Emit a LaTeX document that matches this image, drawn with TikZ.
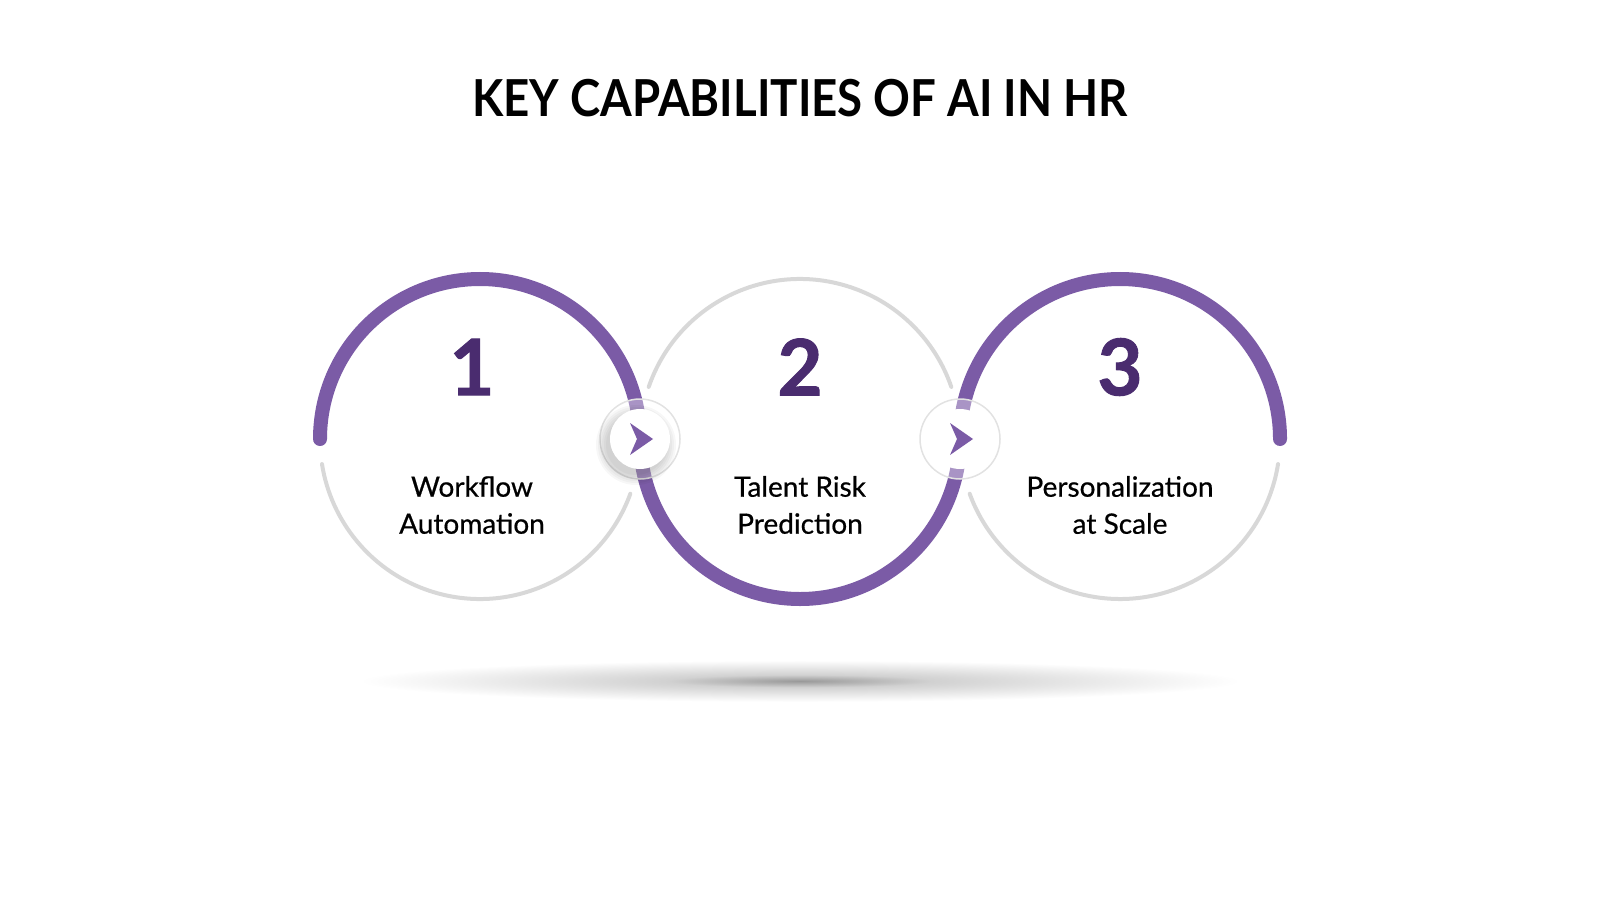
\documentclass[tikz,border=0pt]{standalone}
\usepackage{fontspec}
\setmainfont{Lato}
\newfontfamily\numfont{Lato}[FakeBold=1.2]
\newfontfamily\capfont{Lato}[FakeBold=0.6]
\usetikzlibrary{calc}
\usetikzlibrary{positioning}
\definecolor{hrpurple}{HTML}{7B5BA6}
\definecolor{hrdark}{HTML}{4A2C6F}
\definecolor{hrgrey}{HTML}{D8D8D8}
\definecolor{ringgrey}{HTML}{E2E2E2}
\pgfdeclareradialshading{floorshadow}{\pgfpoint{0cm}{0cm}}{color(0bp)=(black!40); color(6bp)=(black!18); color(20bp)=(white); color(50bp)=(white)}
\begin{document}
\begin{tikzpicture}
\tikzstyle bigcircle=[circle, minimum size=3.2cm, inner sep=0pt, outer sep=0pt];
\tikzstyle purplearc=[draw=hrpurple, line width=0.14cm, line cap=round];
\tikzstyle greyarc=[draw=hrgrey, line width=0.04cm, line cap=round];
\tikzstyle ringnode=[circle, minimum size=0.8cm, inner sep=0pt, draw=ringgrey, line width=0.015cm, fill=white, fill opacity=0.35];
\tikzstyle disknode=[circle, minimum size=0.6cm, inner sep=0pt, fill=white];
\tikzstyle numtext=[font=\numfont\bfseries\fontsize{22.2}{24}\selectfont, text=hrdark];
\tikzstyle captiontext=[font=\capfont\fontsize{7.97}{10.53}\selectfont, align=center, text=black];
\useasboundingbox (0,0) rectangle (16,9);
\node[font=\bfseries\fontsize{14.5}{17}\selectfont] (title) at (8,8.02) {\scalebox{0.895}[1]{KEY CAPABILITIES OF AI IN HR}};
\node[bigcircle] (c1) at (4.8,4.61) {};
\node[bigcircle, right=0cm of c1] (c2) {};
\node[bigcircle, right=0cm of c2] (c3) {};
\shade[shading=floorshadow] (8,2.19) ellipse (5.5 and 0.26);
\draw[greyarc] (c1.-20) arc[start angle=-20, end angle=-171, radius=1.6];
\draw[greyarc] (c2.161) arc[start angle=161, end angle=19, radius=1.6];
\draw[greyarc] (c3.-9) arc[start angle=-9, end angle=-160, radius=1.6];
\draw[purplearc] (c1.west) arc[start angle=180, end angle=0, radius=1.6]
  arc[start angle=180, end angle=360, radius=1.6]
  arc[start angle=180, end angle=0, radius=1.6];
\node[ringnode] (a1) at (c1.east) {};
\node[ringnode] (a2) at (c2.east) {};
\foreach \r in {0.30,0.32,0.34,0.36,0.38,0.40}
  \fill[black, opacity=0.03] ($(a1)+(-0.04,-0.06)$) circle (\r);
\node[disknode] (d1) at (a1) {};
\node[disknode] (d2) at (a2) {};
\foreach \a in {d1,d2}
  \fill[hrpurple] ($(\a)+(0.13,0)$) -- ($(\a)+(-0.10,0.16)$) -- ($(\a)+(-0.03,0)$) -- ($(\a)+(-0.10,-0.16)$) -- cycle;
\node[numtext] (n1) at ($(c1)+(-0.08,0.72)$) {1};
\node[numtext] (n2) at ($(c2)+(0,0.72)$) {2};
\node[numtext] (n3) at ($(c3)+(0,0.72)$) {3};
\node[captiontext] (t1) at ($(c1)+(-0.08,-0.66)$) {Workflow\\Automation};
\node[captiontext] (t2) at ($(c2)+(0,-0.66)$) {Talent Risk\\Prediction};
\node[captiontext] (t3) at ($(c3)+(0,-0.66)$) {Personalization\\at Scale};
\end{tikzpicture}
\end{document}
